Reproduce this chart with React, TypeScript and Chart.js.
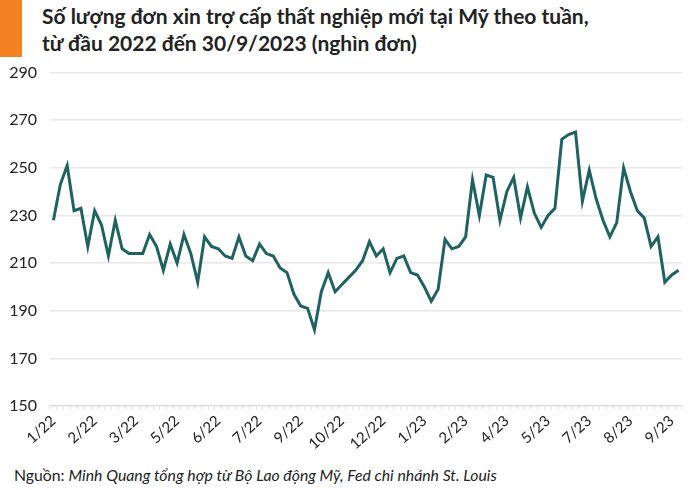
import React, { useEffect, useRef } from 'react';
import { Chart, registerables } from 'chart.js';

Chart.register(...registerables);

// Weekly initial jobless claims (thousands), weeks ending 1/1/2022 .. 30/9/2023
const claims: number[] = [
  228, 243, 251, 232, 233, 217, 232, 226, 213, 228,
  216, 214, 214, 214, 222, 217, 207, 218, 210, 222,
  214, 202, 221, 217, 216, 213, 212, 221, 213, 211,
  218, 214, 213, 208, 206, 197, 192, 191, 182, 198,
  206, 198, 201, 204, 207, 211, 219, 213, 216, 206,
  212, 213, 206, 205, 200, 194, 199, 220, 216, 217,
  221, 245, 230, 247, 246, 228, 240, 246, 229, 242,
  231, 225, 230, 233, 262, 264, 265, 236, 249, 237,
  228, 221, 227, 250, 240, 232, 229, 217, 221, 202,
  205, 207,
];

// Axis labels shown every 6 weeks
const tickLabels: string[] = [
  '1/22', '2/22', '3/22', '5/22', '6/22', '7/22', '9/22', '10/22',
  '12/22', '1/23', '2/23', '4/23', '5/23', '7/23', '8/23', '9/23',
];
const LABEL_STEP = 6;

const yMin = 150;
const yMax = 290;
const yStep = 20;

const titleLines = [
  'Số lượng đơn xin trợ cấp thất nghiệp mới tại Mỹ theo tuần,',
  'từ đầu 2022 đến 30/9/2023 (nghìn đơn)',
];

const FONT = 'Lato, "Noto Sans", sans-serif';

export default function App() {
  const canvasRef = useRef<HTMLCanvasElement | null>(null);

  useEffect(() => {
    document.body.style.margin = '0';
    const ctx = canvasRef.current;
    if (!ctx) return;
    const labels = claims.map((_, i) =>
      i % LABEL_STEP === 0 && tickLabels[i / LABEL_STEP] ? tickLabels[i / LABEL_STEP] : ''
    );
    const chart = new Chart(ctx, {
      type: 'line',
      data: {
        labels,
        datasets: [
          {
            data: claims,
            borderColor: '#1f6262',
            borderWidth: 3,
            pointRadius: 0,
            tension: 0,
            fill: false,
          },
        ],
      },
      options: {
        animation: false,
        responsive: false,
        layout: { padding: { top: 1, right: 18, left: 0, bottom: 0 } },
        plugins: {
          legend: { display: false },
          tooltip: { enabled: false },
          title: { display: false },
        },
        scales: {
          x: {
            type: 'category',
            offset: true,
            grid: {
              display: true,
              offset: true,
              drawOnChartArea: false,
              drawTicks: true,
              tickLength: 4,
              color: '#e2e2e2',
              lineWidth: 1,
            },
            border: { display: true, color: '#e2e2e2', width: 1.5 },
            ticks: {
              autoSkip: false,
              maxRotation: 42,
              minRotation: 42,
              padding: 2,
              color: '#222',
              font: { family: FONT, size: 15 },
            },
            afterFit: (s: any) => {
              s.height = 54;
            },
          },
          y: {
            min: yMin,
            max: yMax,
            ticks: {
              stepSize: yStep,
              color: '#222',
              padding: 13,
              font: { family: FONT, size: 16 },
            },
            grid: {
              color: '#e8e8e8',
              lineWidth: 1.5,
              drawTicks: false,
            },
            border: { display: false },
            afterFit: (s: any) => {
              s.width = 50;
            },
          },
        },
      },
    });
    return () => chart.destroy();
  }, []);

  return (
    <div
      style={{
        position: 'absolute',
        left: 0,
        top: 0,
        width: 700,
        height: 490,
        background: '#fff',
        fontFamily: FONT,
        color: '#222',
        overflow: 'hidden',
      }}
    >
      <div
        style={{
          position: 'absolute',
          left: 0,
          top: 0,
          width: 22,
          height: 57,
          background: '#f58220',
        }}
      />
      <div
        style={{
          position: 'absolute',
          left: 42,
          top: 2,
          fontSize: 21,
          fontWeight: 700,
          lineHeight: '27px',
          whiteSpace: 'nowrap',
        }}
      >
        {titleLines.map((t, i) => (
          <div key={i}>{t}</div>
        ))}
      </div>
      <div style={{ position: 'absolute', left: 0, top: 50, width: 700, height: 410 }}>
        <canvas ref={canvasRef} width={700} height={410} />
      </div>
      <div
        style={{
          position: 'absolute',
          left: 14,
          top: 465,
          fontSize: 15.8,
          whiteSpace: 'nowrap',
        }}
      >
        Nguồn: <i>Minh Quang tổng hợp từ Bộ Lao động Mỹ, Fed chi nhánh St. Louis</i>
      </div>
    </div>
  );
}
